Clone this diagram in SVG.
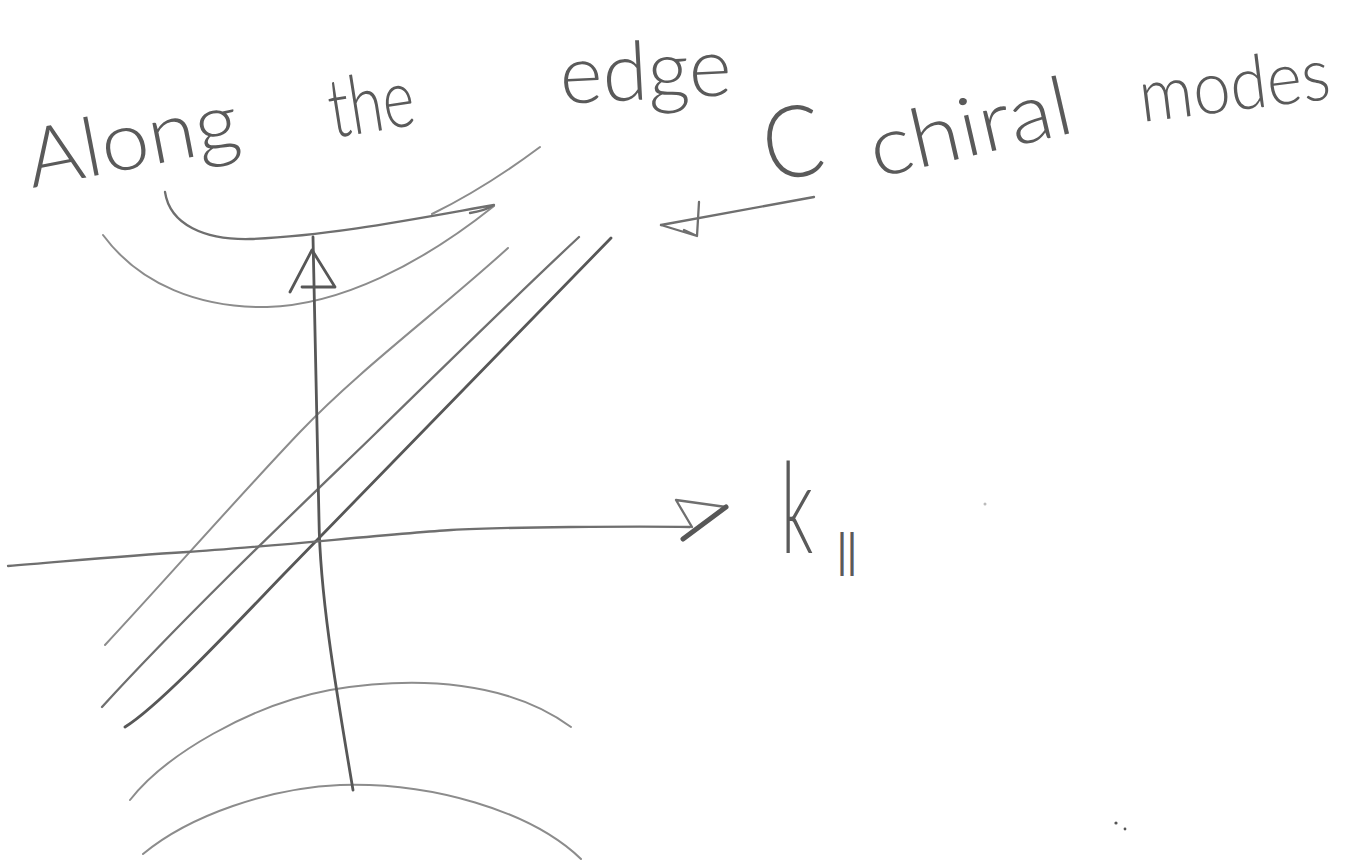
<svg xmlns="http://www.w3.org/2000/svg" width="1353" height="863" viewBox="0 0 1353 863">
<style>
.p{fill:none;stroke:#6f6f6f;stroke-width:2.3;stroke-linecap:round;stroke-linejoin:round}
.d{stroke:#575757;stroke-width:2.8}
.l{stroke:#8c8c8c;stroke-width:2}
.t{font-family:Lato,Roboto,"Liberation Sans",sans-serif;font-weight:300;fill:#5a5a5a;font-size:82px}
.s{font-family:"Liberation Sans",sans-serif;fill:#5a5a5a;font-size:46px}
</style>
<rect width="1353" height="863" fill="#fff"/>

<g id="bulk-upper">
  <path class="p l" d="M103,235 C140,285 200,308 267,307 C340,305 420,265 494,206"/>
  <path class="p" d="M165,192 C170,225 205,240 250,239 C330,236 420,218 494,205 C486,210 477,212 470,213"/>
  <path class="p l" d="M432,214 Q485,188 540,147"/>
</g>

<g id="bulk-lower">
  <path class="p l" d="M130,800 C165,755 250,705 330,690 C420,675 510,682 571,727"/>
  <path class="p l" d="M143,854 C190,815 270,788 340,785 C430,782 530,810 581,859"/>
</g>

<g id="chiral-modes">
  <path class="p l" d="M105,645 C170,575 240,495 300,432 S440,310 508,248"/>
  <path class="p" d="M102,707 C200,600 330,478 377,432 S520,292 579,237"/>
  <path class="p d" d="M125,727 C160,705 230,630 283,575 L611,238"/>
</g>

<g id="axes">
  <path class="p d" d="M353,790 C338,700 320,600 319,520 L313,237"/>
  <path class="p d" d="M290,292 L312,250 L335,287 L302,287"/>
  <path class="p" d="M8,566 C60,562 120,556 187,552 S400,533 451,530 S640,526 690,527"/>
  <path class="p" d="M676,500 L726,507 M676,500 L692,527"/>
  <path class="p d" style="stroke-width:5" d="M683,539 L726,507"/>
</g>

<g id="connectors">
  <path class="p" d="M814,197 L661,225"/>
  <path class="p" d="M699,202 L697,236 L661,225 M684,230 L697,236"/>
</g>

<g id="label-along">
  <text class="t" transform="translate(32,188) rotate(-11)" textLength="215" lengthAdjust="spacingAndGlyphs">Along</text>
  <text class="t" transform="translate(333,138) rotate(-9)" textLength="86" lengthAdjust="spacingAndGlyphs">the</text>
  <text class="t" transform="translate(561,104) rotate(-3)" textLength="172" lengthAdjust="spacingAndGlyphs">edge</text>
</g>

<g id="label-chiral">
  <text class="t" transform="translate(769,182) rotate(-10)" style="font-size:100px" textLength="60" lengthAdjust="spacingAndGlyphs">C</text>
  <text class="t" transform="translate(876,178) rotate(-13)" textLength="206" lengthAdjust="spacingAndGlyphs">chiral</text>
  <text class="t" transform="translate(1142,122) rotate(-7)" style="font-size:74px" textLength="192" lengthAdjust="spacingAndGlyphs">modes</text>
</g>

<g id="label-k">
  <text class="t" transform="translate(781,553) scale(0.75,1.4)" style="font-size:90px">k</text>
  <text class="s" x="837" y="566" textLength="20" lengthAdjust="spacingAndGlyphs">||</text>
</g>

<g id="specks" fill="#555">
  <circle cx="1116" cy="823" r="1.6"/>
  <circle cx="1125" cy="829" r="1.4"/>
  <circle cx="985" cy="504" r="1.5" fill="#bbb"/>
</g>
</svg>
